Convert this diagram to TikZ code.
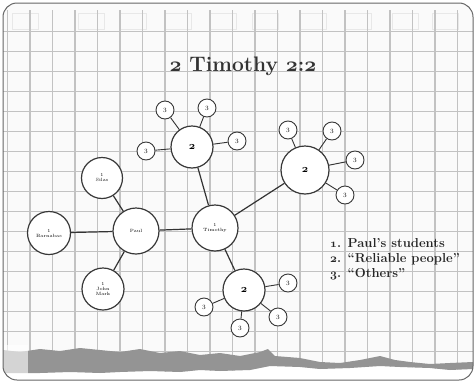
\documentclass[tikz,border=0pt]{standalone}
\newcommand\osn[1]{{\usefont{OML}{cmm}{b}{it}#1}}
\begin{document}
\begin{tikzpicture}[x=1pt,y=-1pt,
  gridline/.style={draw=black!24, line width=1.1pt},
  mainc/.style={circle, draw=black!78, line width=1.2pt, fill=white, inner sep=0pt, align=center, font=\fontsize{4.6}{5}\selectfont},
  bigc/.style={circle, draw=black!78, line width=1.2pt, fill=white, inner sep=0pt, font=\fontsize{11}{11}\selectfont},
  satc/.style={circle, draw=black!78, line width=0.9pt, fill=white, inner sep=0pt, minimum size=18pt, font=\fontsize{6.5}{7}\selectfont},
  link/.style={draw=black!80, line width=1.2pt},
  slink/.style={draw=black!80, line width=0.9pt}]
\useasboundingbox (0,0) rectangle (476,383);
\fill[white] (0,0) rectangle (476,383);
\fill[black!2, rounded corners=14pt] (3,3) rectangle (473,380);
\begin{scope}
  \clip[rounded corners=14pt] (3,3) rectangle (473,380);
  % header band
  \foreach \x in {12,78,120,165,210,252,300,345,392,432} {
    \draw[black!9, line width=0.8pt] (\x,13) rectangle ++(26,16);
  }
  \foreach \k in {0,...,20} { \draw[gridline] (7.5+22.5*\k, 10) -- (7.5+22.5*\k, 372); }
  \foreach \k in {0,...,16} { \draw[gridline] (3, 31.7+20*\k) -- (473, 31.7+20*\k); }
  % torn bottom
  \fill[white] (3,373) -- (40,373) -- (70,372) -- (100,373) -- (120,372) -- (150,371) -- (180,372) -- (200,370) -- (220,371) -- (250,370) -- (270,366) -- (300,367) -- (320,369) -- (350,368) -- (380,366) -- (400,367) -- (430,368) -- (450,370) -- (473,369) -- (473,383) -- (3,383) -- cycle;
  \fill[black!42] (3,350) -- (20,352) -- (40,349) -- (60,351) -- (80,348) -- (100,350) -- (120,352) -- (140,349) -- (160,353) -- (180,351) -- (200,355) -- (220,353) -- (240,356) -- (260,352) -- (268,349) -- (275,356) -- (300,358) -- (320,362) -- (340,363) -- (360,360) -- (380,356) -- (395,360) -- (410,362) -- (430,364) -- (450,363) -- (473,362) -- (473,369) -- (450,370) -- (430,368) -- (400,367) -- (380,366) -- (350,368) -- (320,369) -- (300,367) -- (270,366) -- (250,370) -- (220,371) -- (200,370) -- (180,372) -- (150,371) -- (120,372) -- (100,373) -- (70,372) -- (40,373) -- (3,373) -- cycle;
  \fill[white, opacity=0.6] (3,345) rectangle (28,375);
\end{scope}
\draw[black!60, line width=1pt, rounded corners=14pt] (3,3) rectangle (473,380);

% title
\node[font=\bfseries\fontsize{21}{23}\selectfont, text=black!80] (title) at (243,66) {\osn{2} Timothy \osn{2}:\osn{2}};

% main nodes
\node[mainc, minimum size=46pt] (paul) at (136,231) {Paul};
\node[mainc, minimum size=46pt] (tim) at (215,228) {1\\Timothy};
\node[mainc, minimum size=41pt] (silas) at (102,178) {1\\Silas};
\node[mainc, minimum size=43pt] (barn) at (49,233) {1\\Barnabas};
\node[mainc, minimum size=42pt] (john) at (103,289) {1\\John\\Mark};
\node[bigc, minimum size=42pt] (top) at (192,147) {\osn{2}};
\node[bigc, minimum size=48pt] (right) at (305,170) {\osn{2}};
\node[bigc, minimum size=42pt] (bot) at (244,290) {\osn{2}};

% satellites
\node[satc] (t1) at (165,110) {3};
\node[satc] (t2) at (207,108) {3};
\node[satc] (t3) at (237,141) {3};
\node[satc] (t4) at (146,151) {3};
\node[satc] (r1) at (288,130) {3};
\node[satc] (r2) at (332,131) {3};
\node[satc] (r3) at (355,160) {3};
\node[satc] (r4) at (345,195) {3};
\node[satc] (b1) at (288,283) {3};
\node[satc] (b2) at (204,307) {3};
\node[satc] (b3) at (278,317) {3};
\node[satc] (b4) at (240,328) {3};

% connectors
\draw[link] (paul) -- (tim);
\draw[link] (paul) -- (silas);
\draw[link] (paul) -- (barn);
\draw[link] (paul) -- (john);
\draw[link] (tim) -- (top);
\draw[link] (tim) -- (right);
\draw[link] (tim) -- (bot);
\foreach \s in {t1,t2,t3,t4} { \draw[slink] (top) -- (\s); }
\foreach \s in {r1,r2,r3,r4} { \draw[slink] (right) -- (\s); }
\foreach \s in {b1,b2,b3,b4} { \draw[slink] (bot) -- (\s); }

% legend
\node[anchor=north west, align=left, inner sep=0pt, text=black!85, font=\bfseries\fontsize{13}{15}\selectfont] (legend) at (330,238)
  {\osn{1}. Paul's students\\\osn{2}. ``Reliable people''\\\osn{3}. ``Others''};
\end{tikzpicture}
\end{document}
